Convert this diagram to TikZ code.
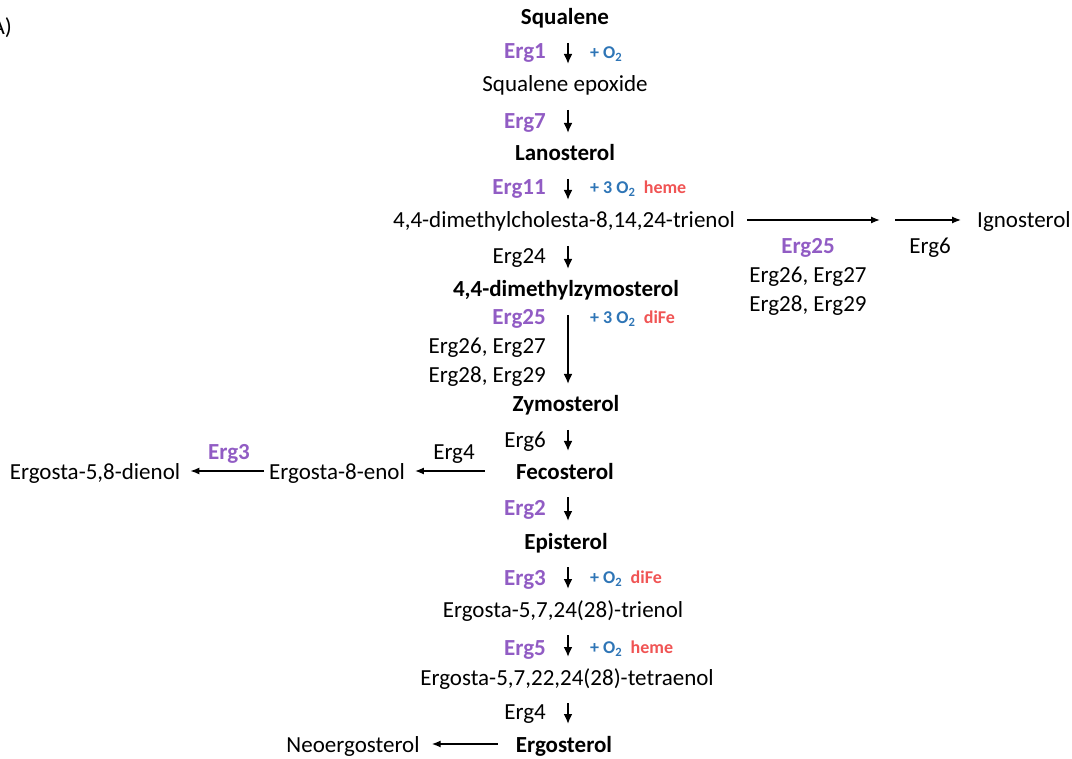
\documentclass[tikz,border=0pt]{standalone}
\usepackage{fontspec}
\setmainfont{Carlito}
\usetikzlibrary{arrows.meta}
\usetikzlibrary{positioning}
\definecolor{ergpurple}{RGB}{145,92,196}
\definecolor{oxblue}{RGB}{46,117,182}
\definecolor{cofred}{RGB}{240,84,84}

\begin{document}
\begin{tikzpicture}[x=1pt,y=-1pt,
    mol/.style={inner sep=0pt,font=\fontsize{23}{27}\selectfont,text height=20pt,text depth=4pt},
    key/.style={mol,font=\fontsize{23}{27}\selectfont\bfseries},
    enz/.style={mol,anchor=east},
    erg/.style={key,text=ergpurple},
    ergl/.style={erg,anchor=east},
    oxy/.style={inner sep=0pt,anchor=west,font=\fontsize{18}{20}\selectfont\bfseries,text=oxblue,text height=17pt,text depth=4pt},
    cof/.style={oxy,text=cofred},
    vstep/.style={line width=2.4pt,-{Latex[length=10pt,width=9pt]},shorten <=26pt,shorten >=20pt},
    hstep/.style={line width=1.3pt,-{Latex[length=9pt,width=7pt]}}]
  \useasboundingbox (0,0) rectangle (1072,759);
  \node[mol,anchor=east] (panel) at (12,27) {A)};
  % main pathway
  \node[key] (sq) at (565,17) {Squalene};
  \node[mol] (sqe) at (565,84) {Squalene epoxide};
  \node[key] (lano) at (565,153) {Lanosterol};
  \node[mol] (tri) at (564,220) {4,4-dimethylcholesta-8,14,24-trienol};
  \node[key] (dmz) at (566,289) {4,4-dimethylzymosterol};
  \node[key] (zymo) at (566,404) {Zymosterol};
  \node[key] (feco) at (565,471) {Fecosterol};
  \node[key] (epi) at (566,541) {Episterol};
  \node[mol] (trien) at (563,609) {Ergosta-5,7,24(28)-trienol};
  \node[mol] (tetra) at (567,677) {Ergosta-5,7,22,24(28)-tetraenol};
  \node[key] (ergo) at (564,744) {Ergosterol};
  \coordinate (ax) at (568,0);
  \foreach \a/\b in {sq/sqe,sqe/lano,lano/tri,tri/dmz,dmz/zymo,zymo/feco,feco/epi,epi/trien,trien/tetra,tetra/ergo}
    \draw[vstep] (\a.center -| ax) -- (\b.center -| ax);
  % enzymes
  \node[ergl] (erg1) at (546,51) {Erg1};
  \node[ergl] (erg7) at (546,121) {Erg7};
  \node[ergl] (erg11) at (546,187) {Erg11};
  \node[enz] (erg24) at (546,256) {Erg24};
  \node[ergl] (erg25) at (546,317) {Erg25};
  \node[enz] (erg2627) at (546,346) {Erg26, Erg27};
  \node[enz] (erg2829) at (546,375) {Erg28, Erg29};
  \node[enz] (erg6) at (546,440) {Erg6};
  \node[ergl] (erg2) at (546,507) {Erg2};
  \node[ergl] (erg3) at (546,577) {Erg3};
  \node[ergl] (erg5) at (546,647) {Erg5};
  \node[enz] (erg4) at (546,711) {Erg4};
  % oxygen and cofactors
  \node[oxy] (ox1) at (590,52) {+ O\textsubscript{2}};
  \node[oxy] (ox11) at (590,187) {+ 3 O\textsubscript{2}};
  \node[cof,right=8pt of ox11] (cof11) {heme};
  \node[oxy] (ox25) at (590,317) {+ 3 O\textsubscript{2}};
  \node[cof,right=8pt of ox25] (cof25) {diFe};
  \node[oxy] (ox3) at (590,577) {+ O\textsubscript{2}};
  \node[cof,right=8pt of ox3] (cof3) {diFe};
  \node[oxy] (ox5) at (590,647) {+ O\textsubscript{2}};
  \node[cof,right=8pt of ox5] (cof5) {heme};
  % side branches
  \node[mol] (ign) at (1024,220) {Ignosterol};
  \coordinate (mid) at (887,220);
  \draw[hstep,shorten <=12pt,shorten >=7pt] (tri) -- (mid);
  \draw[hstep,shorten <=8pt,shorten >=16pt] (mid) -- (ign);
  \node[erg] (erg25b) at (808,246) {Erg25};
  \node[mol] (erg2627b) at (808,275) {Erg26, Erg27};
  \node[mol] (erg2829b) at (808,304) {Erg28, Erg29};
  \node[mol] (erg6b) at (930,246) {Erg6};
  \node[mol] (e8) at (337,471) {Ergosta-8-enol};
  \node[mol] (e58) at (95,471) {Ergosta-5,8-dienol};
  \draw[hstep,shorten <=31pt,shorten >=10pt] (feco) -- (e8);
  \draw[hstep,shorten <=5pt,shorten >=10pt] (e8) -- (e58);
  \node[mol] (erg4b) at (454,452) {Erg4};
  \node[erg] (erg3b) at (229,452) {Erg3};
  \node[mol] (neo) at (353,744) {Neoergosterol};
  \draw[hstep,shorten <=18pt,shorten >=12pt] (ergo) -- (neo);
\end{tikzpicture}
\end{document}
